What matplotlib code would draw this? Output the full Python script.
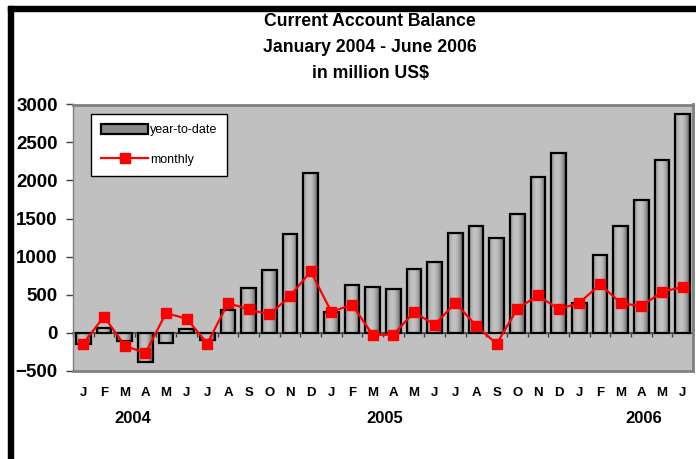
import matplotlib
matplotlib.use("Agg")
import matplotlib.pyplot as plt
import numpy as np
from matplotlib.patches import Rectangle, Patch
from matplotlib.lines import Line2D
import matplotlib.transforms as mtransforms

plt.rcParams['font.family'] = ['Liberation Sans', 'DejaVu Sans']

# data (million US$)
months = ["J", "F", "M", "A", "M", "J", "J", "A", "S", "O", "N", "D"] * 2 + \
         ["J", "F", "M", "A", "M", "J"]
years = ["2004", "2005", "2006"]
year_pos = [2.4, 14.6, 27.1]
ytd = [-145, 60, -112, -385, -135, 52, -100, 292, 590, 828, 1290, 2094,
       272, 625, 597, 567, 832, 930, 1315, 1400, 1245, 1562, 2050, 2358,
       390, 1024, 1405, 1740, 2274, 2872]
monthly = [-145, 210, -172, -273, 255, 182, -145, 387, 304, 238, 475, 805,
           272, 366, -30, -30, 268, 101, 390, 92, -150, 312, 488, 305,
           390, 633, 390, 343, 537, 598]

fig = plt.figure(figsize=(6.96, 4.59), dpi=100)
rect = [73 / 696, 1 - 370.5 / 459, 620 / 696, 266 / 459]

# background axes: grey plot area + zero axis with ticks between categories
ax0 = fig.add_axes(rect, zorder=0)
ax0.set_facecolor('#c0c0c0')
ax0.set_xlim(-0.5, len(ytd) - 0.5)
ax0.set_ylim(-500, 3000)
ax0.spines['bottom'].set_position(('data', 0))
ax0.spines['bottom'].set_color('#404040')
ax0.spines['bottom'].set_linewidth(1.2)
for s in ['top', 'right', 'left']:
    ax0.spines[s].set_visible(False)
ax0.set_xticks(np.arange(-0.5, len(ytd), 1))
ax0.set_xticklabels([])
ax0.set_yticks([])
ax0.tick_params(axis='x', direction='out', length=3, width=1, color='#404040')

ax = fig.add_axes(rect, zorder=1)
ax.patch.set_visible(False)

x = np.arange(len(ytd))
w = 0.72

# cylinder-like grey gradient inside each bar
t = np.linspace(0, 1, 64)
shade = 0.28 + 0.48 * np.sin(np.pi * (0.15 + 0.85 * t)) ** 0.7
grad = shade[np.newaxis, :]
for xi, h in zip(x, ytd):
    ax.imshow(grad, cmap='gray', vmin=0, vmax=1, aspect='auto',
              extent=[xi - w / 2, xi + w / 2, min(0, h), max(0, h)],
              zorder=2, interpolation='bilinear')
ax.bar(x, ytd, width=w, facecolor='none', edgecolor='black', linewidth=1.6,
       zorder=3)

ax.plot(x, monthly, color='#ff0000', linewidth=1.6, marker='s',
        markersize=6.5, markeredgecolor='#ff0000', zorder=4)

ax.set_xlim(-0.5, len(ytd) - 0.5)
ax.set_ylim(-500, 3000)
ax.set_yticks(np.arange(-500, 3001, 500))
ax.tick_params(axis='y', length=5, width=1, color='#404040', pad=6,
               labelsize=13.5)
for lab in ax.get_yticklabels():
    lab.set_fontweight('bold')

ax.set_xticks(x)
ax.set_xticklabels(months, fontsize=9.5, fontweight='bold')
ax.tick_params(axis='x', length=0, pad=12)

for s in ['top', 'right', 'bottom']:
    ax.spines[s].set_color('#808080')
    ax.spines[s].set_linewidth(2)
ax.spines['left'].set_color('#808080')
ax.spines['left'].set_linewidth(1)

trans = mtransforms.blended_transform_factory(ax.transData, ax.transAxes)
for yr, xp in zip(years, year_pos):
    ax.text(xp, -0.182, yr, transform=trans, ha='center', va='center',
            fontsize=12, fontweight='bold')

handles = [Patch(facecolor='#8a8a8a', edgecolor='black', linewidth=1.6),
           Line2D([], [], color='#ff0000', linewidth=1.6, marker='s',
                  markersize=6.5)]
leg = ax.legend(handles, ['year-to-date', 'monthly'], loc='upper left',
                bbox_to_anchor=(0.029, 0.964), borderaxespad=0,
                fancybox=False, framealpha=1, edgecolor='black', fontsize=9,
                handlelength=3.8, handleheight=0.8, handletextpad=0.1,
                labelspacing=1.4, borderpad=0.8)
leg.get_frame().set_linewidth(1)
leg.set_zorder(10)

fig.text(370 / 696, 1 - 21 / 459, "Current Account Balance", ha='center',
         va='center', fontsize=12.7, fontweight='bold')
fig.text(370 / 696, 1 - 47 / 459, "January 2004 - June 2006", ha='center',
         va='center', fontsize=12.7, fontweight='bold')
fig.text(370 / 696, 1 - 73 / 459, "in million US$", ha='center',
         va='center', fontsize=12.7, fontweight='bold')

# black frame lines at top and left
fig.patches.append(Rectangle((8 / 696, 1 - 11 / 459), 1, 5 / 459,
                             transform=fig.transFigure, color='black'))
fig.patches.append(Rectangle((8 / 696, 0), 5 / 696, 1 - 6 / 459,
                             transform=fig.transFigure, color='black'))

fig.savefig('out.png', dpi=100)
